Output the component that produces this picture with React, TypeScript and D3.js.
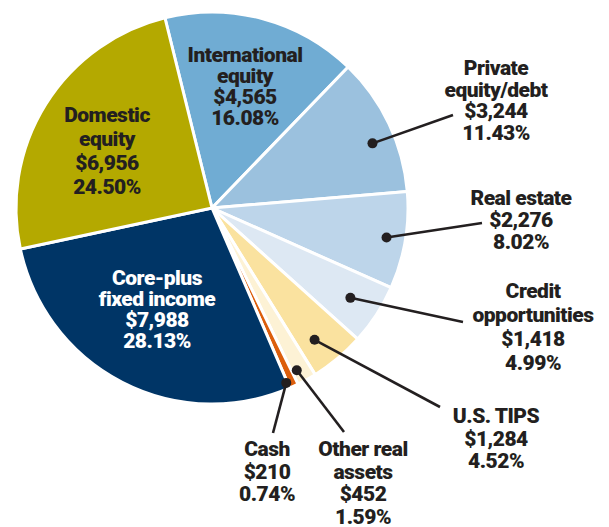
import React from "react";
import * as d3 from "d3";

const categories = [
  "International equity",
  "Private equity/debt",
  "Real estate",
  "Credit opportunities",
  "U.S. TIPS",
  "Other real assets",
  "Cash",
  "Core-plus fixed income",
  "Domestic equity",
];
const amounts = [4565, 3244, 2276, 1418, 1284, 452, 210, 7988, 6956];
const percents = [16.08, 11.43, 8.02, 4.99, 4.52, 1.59, 0.74, 28.13, 24.5];
const nameLines = [
  ["International", "equity"],
  ["Private", "equity/debt"],
  ["Real estate"],
  ["Credit", "opportunities"],
  ["U.S. TIPS"],
  ["Other real", "assets"],
  ["Cash"],
  ["Core-plus", "fixed income"],
  ["Domestic", "equity"],
];
const colors = [
  "#70acd3",
  "#9bc1de",
  "#bdd5ea",
  "#dde8f3",
  "#fae29f",
  "#fdf2d5",
  "#dc5e0c",
  "#003566",
  "#b4a900",
];

// label layout: x center, first baseline, line height, text color, dot (angle offset deg, radius), leader end
const labelLayout: any[] = [
  { x: 245, y: 62, lh: 21, fill: "#231f20" },
  { x: 496, y: 75, lh: 21.7, fill: "#231f20", dot: [3.5, 173], end: [453, 115] },
  { x: 521, y: 205, lh: 22, fill: "#231f20", dot: [0, 177], end: [482, 223] },
  { x: 533, y: 298, lh: 24, fill: "#231f20", dot: [0, 165], end: [463, 322] },
  { x: 496, y: 423, lh: 22.5, fill: "#231f20", dot: [2, 167], end: [440, 407] },
  { x: 363, y: 456, lh: 22.5, fill: "#231f20", dot: [1.3, 183], end: [344, 432] },
  { x: 267, y: 456, lh: 22.5, fill: "#231f20", dot: [1.7, 190], end: [273, 433] },
  { x: 157, y: 285, lh: 21, fill: "#ffffff" },
  { x: 107, y: 122, lh: 24, fill: "#231f20" },
];

const W = 609;
const H = 527;
const cx = 212;
const cy = 208;
const R = 196;
const startDeg = -13.9;

const fmtMoney = (v: number) => "$" + d3.format(",")(v);
const fmtPct = (v: number) => v.toFixed(2) + "%";

export default function App() {
  const start = (startDeg * Math.PI) / 180;
  const pie = d3
    .pie<number>()
    .sort(null)
    .value((d) => d)
    .startAngle(start)
    .endAngle(start + Math.PI * 2);
  const arcs = pie(percents);
  const arc = d3.arc<d3.PieArcDatum<number>>().innerRadius(0).outerRadius(R);

  const font = "Roboto, 'Liberation Sans', sans-serif";

  return (
    <svg
      width={W}
      height={H}
      style={{ position: "absolute", left: 0, top: 0, background: "#fff" }}
    >
      <g transform={`translate(${cx},${cy})`}>
        {arcs.map((a, i) => (
          <path
            key={categories[i]}
            d={arc(a) || ""}
            fill={colors[i]}
            stroke="#fff"
            strokeWidth={3}
            strokeLinejoin="round"
          />
        ))}
      </g>
      {arcs.map((a, i) => {
        const L = labelLayout[i];
        if (!L.dot) return null;
        const ang = (a.startAngle + a.endAngle) / 2 + (L.dot[0] * Math.PI) / 180;
        const px = cx + L.dot[1] * Math.sin(ang);
        const py = cy - L.dot[1] * Math.cos(ang);
        return (
          <g key={"lead" + i}>
            <line
              x1={px}
              y1={py}
              x2={L.end[0]}
              y2={L.end[1]}
              stroke="#231f20"
              strokeWidth={2.6}
            />
            <circle cx={px} cy={py} r={5} fill="#231f20" />
          </g>
        );
      })}
      {categories.map((c, i) => {
        const L = labelLayout[i];
        const lines = [...nameLines[i], fmtMoney(amounts[i]), fmtPct(percents[i])];
        return (
          <g key={"lab" + i} transform={`translate(${L.x},${L.y})`}>
            {lines.map((t, j) => (
              <text
                key={j}
                x={0}
                y={j * L.lh}
                textAnchor="middle"
                fontFamily={font}
                fontWeight={900}
                fontSize={21}
                letterSpacing={-0.5}
                fill={L.fill}
              >
                {t}
              </text>
            ))}
          </g>
        );
      })}
    </svg>
  );
}
